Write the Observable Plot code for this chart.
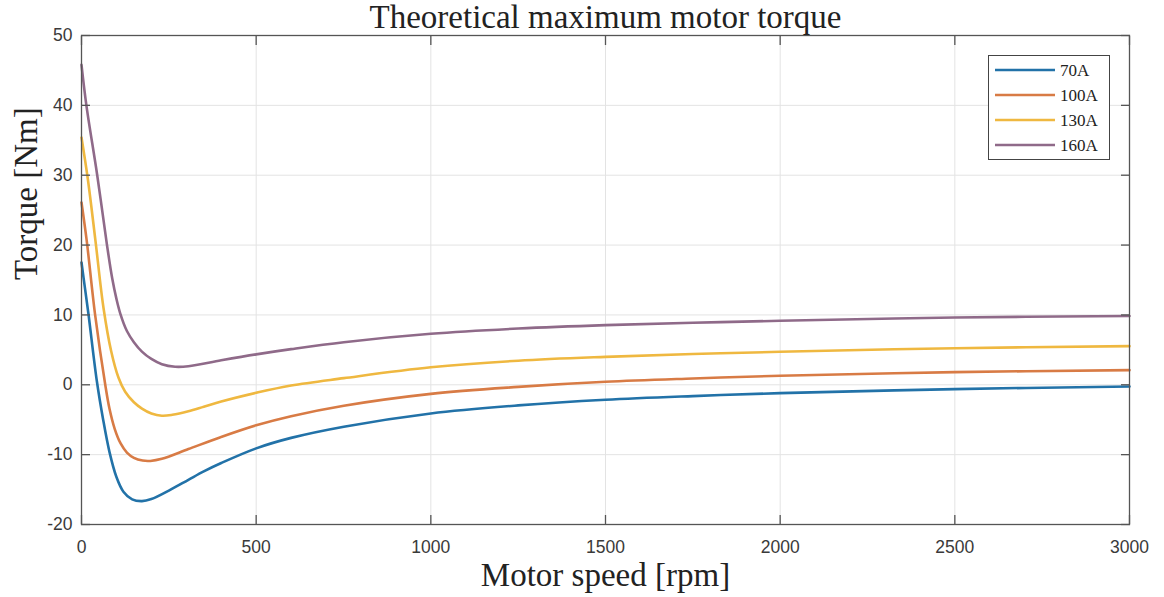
<!DOCTYPE html>
<html>
<head>
<meta charset="utf-8">
<script src="https://cdn.jsdelivr.net/npm/d3@7"></script>
<script src="https://cdn.jsdelivr.net/npm/@observablehq/plot@0.6"></script>
<style>
  html, body { margin: 0; padding: 0; background: #fff; }
  #wrap { position: relative; width: 1164px; height: 597px; }
  #legend { position: absolute; left: 988px; top: 55px; }
</style>
</head>
<body>
<div id="wrap"></div>
<script>
// ---- Data ----
const titleText = "Theoretical maximum motor torque";
const xLabel = "Motor speed [rpm]";
const yLabel = "Torque [Nm]";
const seriesNames = ["70A", "100A", "130A", "160A"];
const seriesColors = ["#2272a8", "#d87b45", "#efb840", "#8f6a89"];
const xTicks = [0, 500, 1000, 1500, 2000, 2500, 3000];
const yTicks = [-20, -10, 0, 10, 20, 30, 40, 50];

const speed70  = [0, 10, 20, 44, 62, 80, 100, 120, 145, 173, 200, 255, 306, 350, 400, 500, 600, 751, 1000, 1250, 1500, 1750, 2000, 2500, 3000];
const torque70 = [17.5, 13.8, 10.1, 0.5, -5, -9.6, -13.2, -15.3, -16.4, -16.65, -16.35, -15.0, -13.6, -12.4, -11.2, -9.1, -7.6, -6.0, -4.1, -2.95, -2.15, -1.62, -1.19, -0.62, -0.24];

const speed100  = [0, 15, 39, 68, 80, 95, 112, 130, 150, 175, 197, 230, 306, 398, 500, 600, 751, 1000, 1250, 1500, 1750, 2000, 2500, 3000];
const torque100 = [26.1, 20.6, 10, 0, -3.4, -6.3, -8.4, -9.7, -10.45, -10.85, -10.9, -10.6, -9.2, -7.5, -5.8, -4.5, -3.0, -1.3, -0.3, 0.43, 0.9, 1.29, 1.81, 2.1];

const speed130  = [0, 18, 40, 63, 85, 106, 125, 150, 173, 200, 230, 260, 306, 350, 400, 500, 600, 751, 1000, 1250, 1500, 1750, 2000, 2500, 3000];
const torque130 = [35.4, 29.5, 20.6, 11, 4.8, 1.0, -1.0, -2.5, -3.4, -4.1, -4.43, -4.3, -3.8, -3.15, -2.4, -1.15, -0.1, 0.95, 2.5, 3.45, 4.0, 4.4, 4.72, 5.24, 5.53];

const speed160  = [0, 14, 45, 73, 88, 100, 111, 130, 150, 173, 200, 230, 268, 306, 400, 500, 600, 751, 1000, 1250, 1500, 1750, 2000, 2500, 3000];
const torque160 = [45.8, 40, 30, 20, 15.2, 12.3, 10.2, 7.7, 6.1, 4.75, 3.7, 2.95, 2.58, 2.65, 3.5, 4.35, 5.1, 6.1, 7.3, 8.05, 8.54, 8.87, 9.16, 9.63, 9.85];

const allSpeeds = [speed70, speed100, speed130, speed160];
const allTorques = [torque70, torque100, torque130, torque160];

const rows = [];
seriesNames.forEach((name, i) => {
  allSpeeds[i].forEach((s, j) => rows.push({series: name, speed: s, torque: allTorques[i][j]}));
});

const serif = "'Liberation Serif', 'DejaVu Serif', serif";
const sans = "'Liberation Sans', Arial, sans-serif";
const axisColor = "#555";
const plainFmt = d => String(d);

const chart = Plot.plot({
  width: 1164,
  height: 597,
  marginTop: 35,
  marginLeft: 81,
  marginRight: 35,
  marginBottom: 73,
  style: {fontFamily: sans, background: "#fff", overflow: "visible"},
  x: {domain: [0, 3000], ticks: xTicks},
  y: {domain: [-20, 50], ticks: yTicks},
  color: {domain: seriesNames, range: seriesColors},
  marks: [
    Plot.gridX(xTicks, {stroke: "#e3e3e3", strokeOpacity: 1, strokeWidth: 1}),
    Plot.gridY(yTicks, {stroke: "#e3e3e3", strokeOpacity: 1, strokeWidth: 1}),
    Plot.line(rows, {x: "speed", y: "torque", z: "series", stroke: "series", strokeWidth: 2.6, curve: "catmull-rom"}),
    Plot.frame({stroke: axisColor, strokeWidth: 1.3}),
    // inward ticks on all four sides
    Plot.axisX(xTicks, {anchor: "bottom", tickSize: -9, tickFormat: () => "", stroke: axisColor, strokeWidth: 1.3, label: null}),
    Plot.axisX(xTicks, {anchor: "top", tickSize: -9, tickFormat: () => "", stroke: axisColor, strokeWidth: 1.3, label: null}),
    Plot.axisY(yTicks, {anchor: "left", tickSize: -9, tickFormat: () => "", stroke: axisColor, strokeWidth: 1.3, label: null}),
    Plot.axisY(yTicks, {anchor: "right", tickSize: -9, tickFormat: () => "", stroke: axisColor, strokeWidth: 1.3, label: null}),
    // tick labels
    Plot.axisX(xTicks, {anchor: "bottom", tickSize: 0, tickPadding: 16, fontSize: 17.5, fill: "#3a3a3a", label: null, tickFormat: plainFmt}),
    Plot.axisY(yTicks, {anchor: "left", tickSize: 0, tickPadding: 9, fontSize: 17.5, fill: "#3a3a3a", label: null, tickFormat: plainFmt}),
    // axis titles and chart title
    Plot.text([xLabel], {frameAnchor: "bottom", lineAnchor: "middle", dy: 51, text: d => d, fontFamily: serif, fontSize: 33, fill: "#222"}),
    Plot.text([yLabel], {frameAnchor: "left", dx: -55, rotate: -90, text: d => d, fontFamily: serif, fontSize: 33, fill: "#222"}),
    Plot.text([titleText], {frameAnchor: "top", lineAnchor: "middle", dy: -18, text: d => d, fontFamily: serif, fontSize: 33, fill: "#222"})
  ]
});
document.getElementById("wrap").appendChild(chart);

// ---- Legend (box in the top-right corner of the axes) ----
const lg = d3.select("#wrap").append("svg").attr("id", "legend")
  .attr("width", 122).attr("height", 105);
lg.append("rect").attr("x", 0.5).attr("y", 0.5).attr("width", 121).attr("height", 104)
  .attr("fill", "#fff").attr("stroke", "#444").attr("stroke-width", 1);
seriesNames.forEach((name, i) => {
  const y = 15 + i * 25;
  lg.append("line").attr("x1", 7).attr("x2", 67).attr("y1", y).attr("y2", y)
    .attr("stroke", seriesColors[i]).attr("stroke-width", 2.6);
  lg.append("text").attr("x", 72).attr("y", y).attr("dy", "0.35em")
    .attr("font-family", serif).attr("font-size", 17).attr("fill", "#222").text(name);
});
</script>
</body>
</html>
